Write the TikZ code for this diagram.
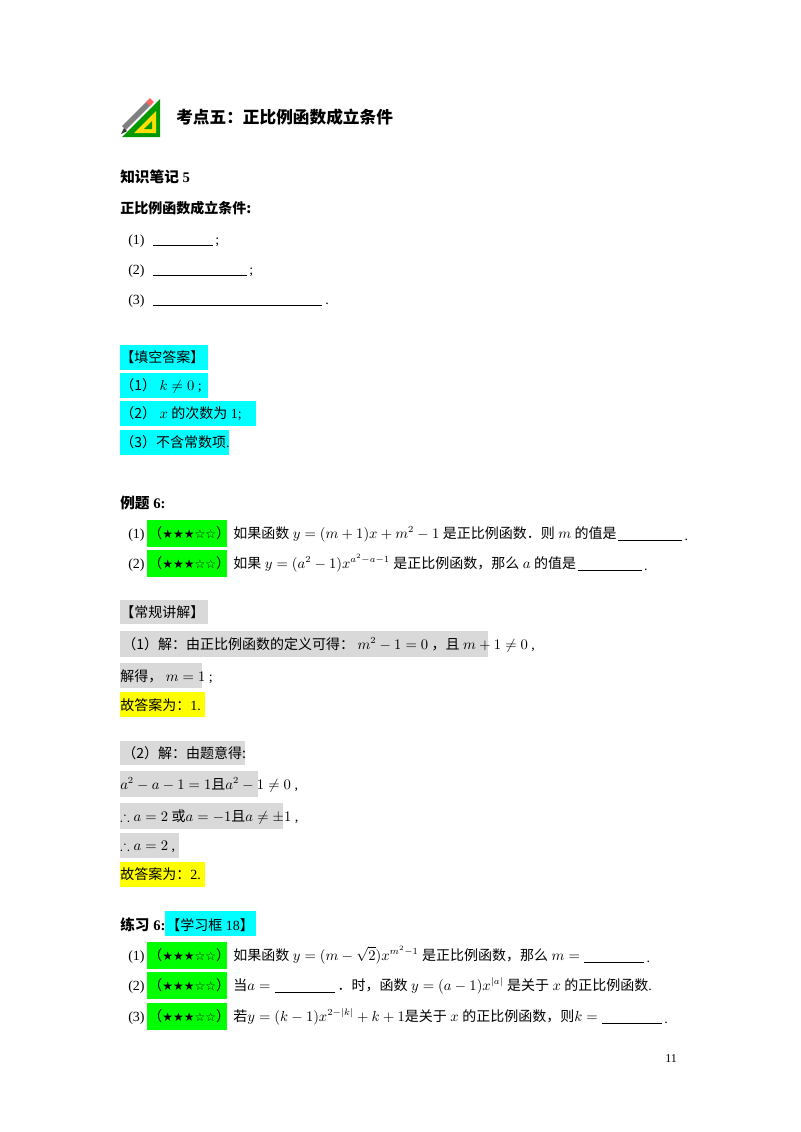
\documentclass[tikz,border=0pt]{standalone}
\usepackage{amssymb}
\usepackage{fontspec}
\setmainfont{Liberation Serif}
\newfontfamily\cjk{Noto Sans CJK SC}
\newfontfamily\sym{DejaVu Sans}
\newcommand{\stars}{{\cjk （}{\sym\fontsize{9}{10}\selectfont ★★★☆☆}{\cjk ）}}
\definecolor{hcyan}{RGB}{0,255,255}
\definecolor{hgreen}{RGB}{0,255,0}
\definecolor{hyel}{RGB}{255,255,0}
\definecolor{hgrey}{RGB}{217,217,217}
\tikzset{
  t/.style={anchor=base west,inner sep=0pt,font=\fontsize{10.5}{12}\selectfont},
  hd/.style={t,font=\fontsize{11}{13}\selectfont\bfseries},
  ul/.style={line width=0.5pt},
}
\begin{document}
\begin{tikzpicture}[x=0.75pt,y=-0.75pt]
\useasboundingbox (0,0) rectangle (800,1132);
% icon
\fill[green!60!black] (122,137) -- (160,99) -- (160,137) -- cycle;
\fill[yellow!80!orange] (134,133) -- (156,111) -- (156,133) -- cycle;
\fill[green!60!black] (144,129) -- (152,121) -- (152,129) -- cycle;
\draw[line width=4pt,gray] (124,128) -- (150,102);
\draw[line width=4pt,red!60] (148,104) -- (152,100);
\fill[gray!40!black] (124,128) -- (121,134) -- (127,131) -- cycle;
\node[hd,font=\fontsize{12.5}{14}\selectfont\bfseries\cjk] (title) at (176,123) {考点五：正比例函数成立条件};
\node[hd] (kn) at (120,182) {{\cjk 知识笔记} 5};
\node[hd,font=\fontsize{10.5}{12}\selectfont\bfseries\cjk] (cond) at (120,213) {正比例函数成立条件:};
\node[t] (c1) at (128,244) {(1)};
\draw[ul] (153,245) -- (213,245); \node[t] at (215,244) {;};
\node[t] (c2) at (128,274) {(2)};
\draw[ul] (153,275) -- (247,275); \node[t] at (249,274) {;};
\node[t] (c3) at (128,304) {(3)};
\draw[ul] (153,305) -- (322,305); \node[t] at (325,304) {.};
% answers
\fill[hcyan] (120,345) rectangle (208,370);
\node[t,font=\fontsize{10.5}{12}\selectfont\cjk] at (120,362) {【填空答案】};
\fill[hcyan] (120,373) rectangle (208,398);
\node[t] at (120,390) {{\cjk （1）} $k\neq 0$ ;};
\fill[hcyan] (120,401) rectangle (256,426);
\node[t] at (120,418) {{\cjk （2）} $x$ {\cjk 的次数为} 1;};
\fill[hcyan] (120,430) rectangle (229,455);
\node[t] at (120,447) {{\cjk （3）不含常数项}.};
% example
\node[hd] at (120,508) {{\cjk 例题} 6:};
\node[t] at (128,538) {(1)};
\fill[hgreen] (147,520) rectangle (227,547);
\node[t] at (148,538) {\stars};
\node[t] (e1) at (233,538) {{\cjk 如果函数} $y=(m+1)x+m^2-1$ {\cjk 是正比例函数．则} $m$ {\cjk 的值是}};
\draw[ul] ([xshift=1pt,yshift=-1.5pt]e1.base east) -- ++(48pt,0) node[t,right=1.5pt] {.};
\node[t] at (128,568) {(2)};
\fill[hgreen] (147,550) rectangle (227,577);
\node[t] at (148,568) {\stars};
\node[t] (e2) at (233,568) {{\cjk 如果} $y=(a^2-1)x^{a^2-a-1}$ {\cjk 是正比例函数，那么} $a$ {\cjk 的值是}};
\draw[ul] ([xshift=1pt,yshift=-1.5pt]e2.base east) -- ++(48pt,0) node[t,right=1.5pt] {.};
% solution
\fill[hgrey] (120,600) rectangle (208,624);
\node[t,font=\fontsize{10.5}{12}\selectfont\cjk] at (120,617) {【常规讲解】};
\fill[hgrey] (120,631) rectangle (488,657);
\node[t] at (122,649) {{\cjk （1）解：由正比例函数的定义可得：} $m^2-1=0$ {\cjk ，且} $m+1\neq 0$ ,};
\fill[hgrey] (120,663) rectangle (202,688);
\node[t] at (120,681) {{\cjk 解得，} $m=1$ ;};
\fill[hyel] (120,692) rectangle (205,717);
\node[t] at (120,710) {{\cjk 故答案为：}1.};
\fill[hgrey] (120,741) rectangle (245,765);
\node[t] at (122,758) {{\cjk （2）解：由题意得:}};
\fill[hgrey] (120,771) rectangle (258,797);
\node[t] at (120,789) {$a^2-a-1=1${\cjk 且}$a^2-1\neq 0$ ,};
\fill[hgrey] (120,803) rectangle (283,829);
\node[t] at (120,821) {$\therefore a=2$ {\cjk 或}$a=-1${\cjk 且}$a\neq\pm1$ ,};
\fill[hgrey] (120,833) rectangle (179,858);
\node[t] at (120,850) {$\therefore a=2$ ,};
\fill[hyel] (120,862) rectangle (205,887);
\node[t] at (120,879) {{\cjk 故答案为：}2.};
% practice
\node[hd] at (120,930) {{\cjk 练习} 6:};
\fill[hcyan] (165,911) rectangle (256,936);
\node[t] at (166,930) {{\cjk 【学习框} 18{\cjk 】}};
\node[t] at (128,960) {(1)};
\fill[hgreen] (147,942) rectangle (227,969);
\node[t] at (148,960) {\stars};
\node[t] (p1) at (233,960) {{\cjk 如果函数} $y=(m-\sqrt{2})x^{m^2-1}$ {\cjk 是正比例函数，那么} $m=$};
\draw[ul] ([xshift=3pt,yshift=-1.5pt]p1.base east) -- ++(45pt,0) node[t,right=1.5pt] {.};
\node[t] at (128,990) {(2)};
\fill[hgreen] (147,972) rectangle (227,999);
\node[t] at (148,990) {\stars};
\node[t] (p2a) at (233,990) {{\cjk 当}$a=$};
\draw[ul] ([xshift=3pt,yshift=-1.5pt]p2a.base east) -- ++(45pt,0) coordinate (p2e);
\node[t] at ([xshift=2pt,yshift=1.5pt]p2e) {{\cjk ．时，函数} $y=(a-1)x^{|a|}$ {\cjk 是关于} $x$ {\cjk 的正比例函数}.};
\node[t] at (128,1021) {(3)};
\fill[hgreen] (147,1003) rectangle (227,1030);
\node[t] at (148,1021) {\stars};
\node[t] (p3) at (233,1021) {{\cjk 若}$y=(k-1)x^{2-|k|}+k+1${\cjk 是关于} $x$ {\cjk 的正比例函数，则}$k=$};
\draw[ul] ([xshift=3pt,yshift=-1.5pt]p3.base east) -- ++(45pt,0) node[t,right=1.5pt] {.};
\node[t,font=\fontsize{9}{10}\selectfont] at (665,1062) {11};
\end{tikzpicture}
\end{document}
